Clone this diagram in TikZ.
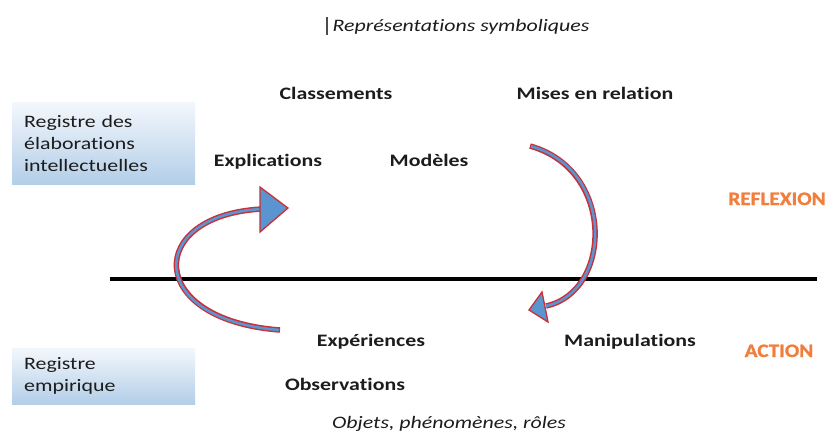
\documentclass[tikz,border=0pt]{standalone}
\usepackage{fontspec}
\setmainfont{Carlito}[FakeStretch=1.25,Ligatures=NoCommon]
\newfontfamily\orfont{Carlito}[FakeStretch=1.12,FakeBold=1.2]
\definecolor{arrblue}{HTML}{5B95CF}
\definecolor{arrred}{HTML}{C8303A}
\definecolor{orng}{HTML}{F07E3C}
\definecolor{txt}{HTML}{1C1C1C}
\definecolor{boxtop}{HTML}{F3F7FC}
\definecolor{boxbot}{HTML}{B3CEE8}
\tikzset{
  lbl/.style={font=\fontsize{17.5}{21}\selectfont\bfseries, text=txt, inner sep=0pt, anchor=base},
  ital/.style={font=\fontsize{17.5}{21}\selectfont\itshape, text=txt, inner sep=0pt, anchor=base},
  regbox/.style={top color=boxtop, bottom color=boxbot, draw=none, anchor=north west,
    inner xsep=12pt, inner ysep=0pt, text width=159pt, align=left,
    font=\fontsize{17.5}{22}\selectfont, text=txt},
  orlbl/.style={font=\orfont\bfseries\fontsize{19}{22}\selectfont, text=orng, anchor=base, inner sep=0pt},
  shaftout/.style={draw=arrred, line width=5.5pt},
  shaftin/.style={draw=arrblue, line width=2.6pt, shorten <=1pt},
  headstyle/.style={fill=arrblue, draw=arrred, line width=1.3pt, line join=miter},
  axisline/.style={draw=black, line width=3.5pt},
  cursor/.style={draw=black!70, line width=1.4pt}
}
\begin{document}
\begin{tikzpicture}[x=1pt,y=-1pt]
\useasboundingbox (0,0) rectangle (828,437);

% boxes
\node[regbox, minimum height=82pt] (regelab) at (12,102) {Registre des\\élaborations\\intellectuelles};
\node[regbox, minimum height=56pt] (regemp) at (12,348) {Registre\\empirique};

% horizontal axis
\coordinate (axL) at (110,279);
\coordinate (axR) at (817,279);
\draw[axisline] (axL) -- (axR);

% titles
\coordinate (curT) at (327,17);
\coordinate (curB) at (327,35);
\draw[cursor] (curT) -- (curB);
\node[ital] (repsym) at (461,31) {Représentations symboliques};
\node[ital] (objets) at (449,428) {Objets, phénomènes, rôles};

% labels
\node[lbl] (class) at (336,99) {Classements};
\node[lbl] (mises) at (595,99) {Mises en relation};
\node[lbl] (expl) at (268,166) {Explications};
\node[lbl] (modeles) at (429,166) {Modèles};
\node[lbl] (exper) at (371,346) {Expériences};
\node[lbl] (manip) at (630,346) {Manipulations};
\node[lbl] (obs) at (345,390) {Observations};

\node[orlbl] (reflex) at (777,205) {REFLEXION};
\node[orlbl] (action) at (779,357) {ACTION};

% left curved arrow (up)
\coordinate (la0) at (280,330);
\coordinate (la1) at (145,320);
\coordinate (la2) at (145,215);
\coordinate (la3) at (262,209);
\draw[shaftout] (la0) .. controls (la1) and (la2) .. (la3);
\draw[shaftin] (la0) .. controls (la1) and (la2) .. (la3);
\coordinate (lhA) at (260,187);
\coordinate (lhB) at (260,232);
\coordinate (lhT) at (288,208);
\draw[headstyle] (lhA) -- (lhT) -- (lhB) -- cycle;

% right curved arrow (down)
\coordinate (ra0) at (530,146);
\coordinate (ra1) at (616,170);
\coordinate (ra2) at (612,292);
\coordinate (ra3) at (546,306);
\draw[shaftout] (ra0) .. controls (ra1) and (ra2) .. (ra3);
\draw[shaftin] (ra0) .. controls (ra1) and (ra2) .. (ra3);
\coordinate (rhA) at (542,292);
\coordinate (rhB) at (548,322);
\coordinate (rhT) at (529,310);
\draw[headstyle] (rhA) -- (rhT) -- (rhB) -- cycle;
\end{tikzpicture}
\end{document}
